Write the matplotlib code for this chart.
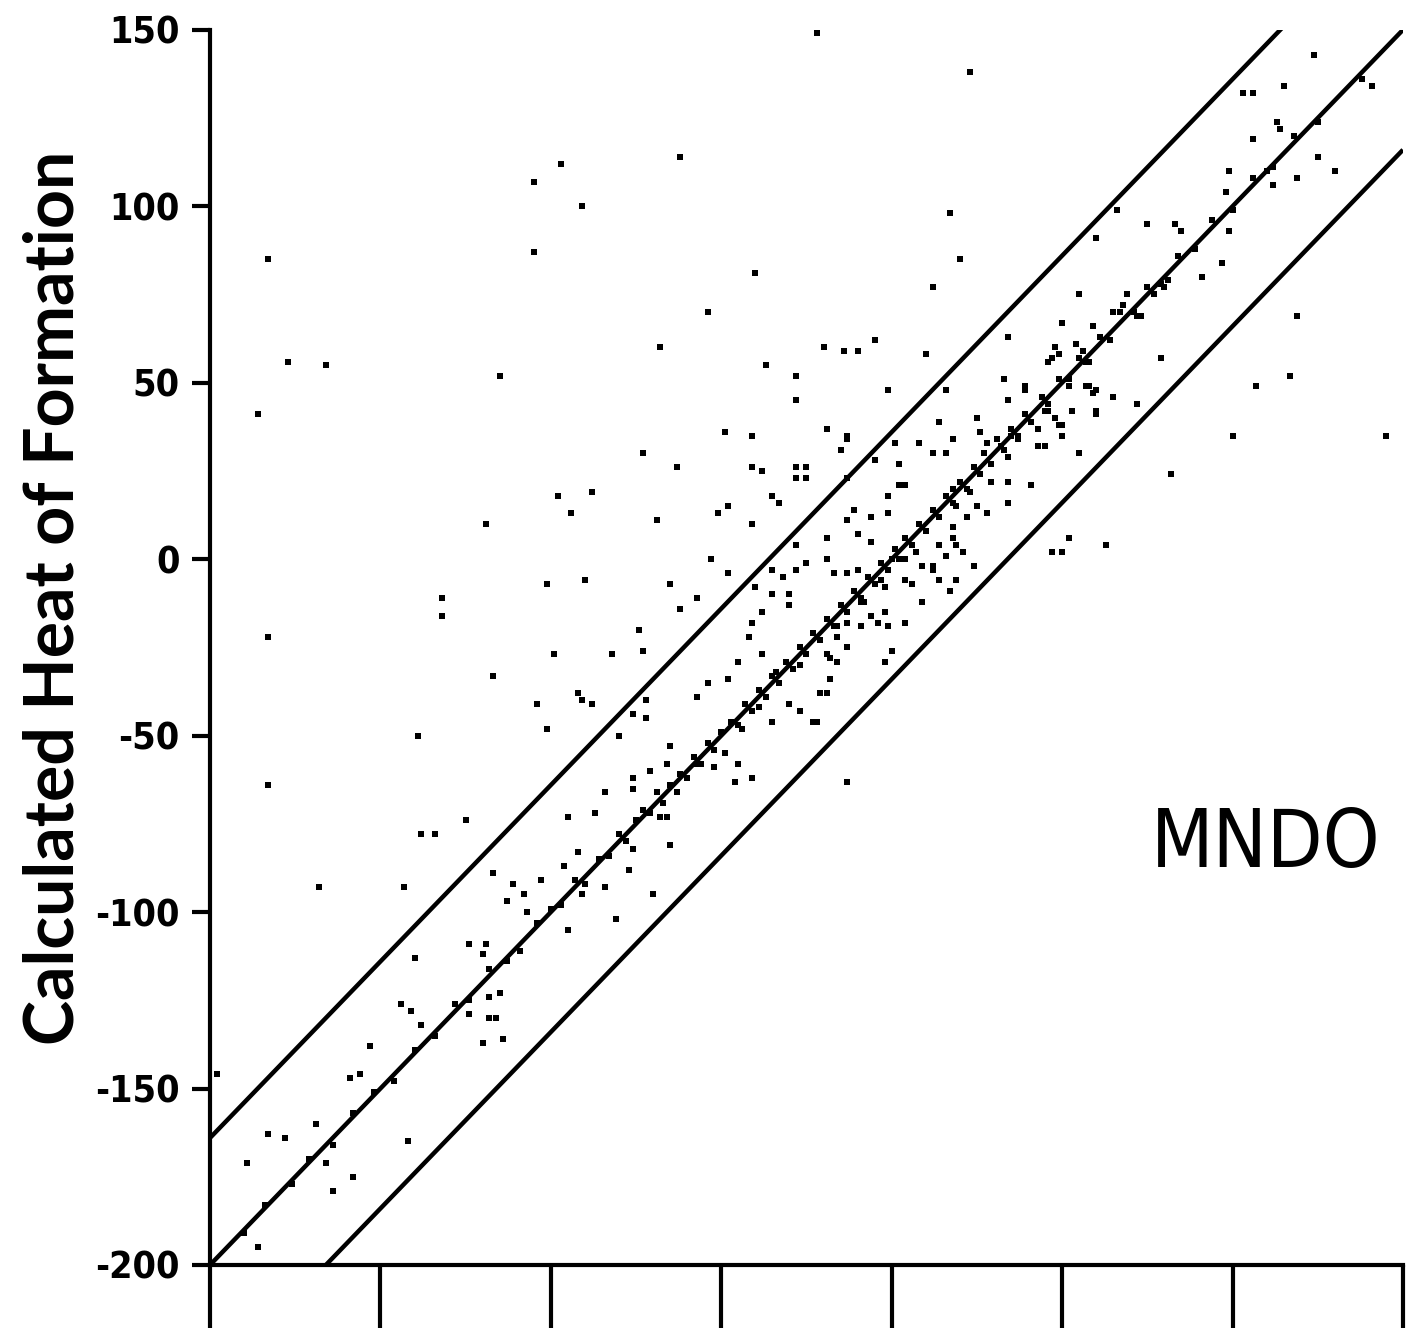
import matplotlib.pyplot as plt
import numpy as np

outlier_x = [-97, -105, -91, -105, -183, -177, -166, -115, -186,
             -22, 23, -62, 17, 20, 12, -40, -54, -68, -20, -14, -10, -5, 10, -37, -28, -1, 16, -28, 33, 34,
             -19, 14, -49, -41, -13, 25]
outlier_y = [112, 107, 100, 87, 85, 56, 55, 52, 41,
             149, 138, 114, 98, 85, 77, 81, 70, 60, 60, 59, 59, 62, 58, 55, 52, 48, 48, 45, 51, 63,
             37, 39, 36, 35, 35, 40]

upper_right_x = [124, 138, 141, 115, 103, 106, 113, 114, 106, 125, 130, 110, 112, 119, 99, 98, 66, 75, 83, 85,
                 99, 60, 97, 91, 81, 80, 77, 55, 69, 68, 72, 73, 65, 59, 119, 50, 48, 46, 57, 54,
                 56, 79, 52, 58, 60, 65, 107, 117, 72, 53, 60, 46, 49, 39, 100, 145]
upper_right_y = [143, 136, 134, 134, 132, 132, 124, 122, 119, 114, 110, 110, 106, 108, 110, 104, 99, 95, 95, 93,
                 93, 91, 84, 80, 79, 77, 75, 75, 75, 72, 69, 69, 70, 66, 69, 67, 60, 56, 56, 61,
                 59, 57, 49, 49, 48, 46, 49, 52, 44, 42, 41, 42, 38, 48, 35, 35]

left_x = [-98, -88, -94, -119, -101, -90, -132, -132, -183, -99, -117, -92, -91, -88, -104, -101, -139, -183,
          -84, -95, -87, -125, -138, -134,
          -168, -143, -117, -111, -103, -96, -92, -108, -113, -107, -91, -84, -95, -124, -119, -120, -140,
          -144, -141, -138, -118, -115, -124, -118, -116, -114, -120, -153, -159, -156, -198, -169, -183,
          -178, -142, -189, -166, -158, -164, -186]
left_y = [18, 19, 13, 10, -7, -6, -11, -16, -22, -27, -33, -38, -40, -41, -41, -48, -50, -64,
          -66, -73, -72, -74, -78, -78,
          -93, -93, -89, -92, -91, -87, -83, -95, -97, -100, -95, -93, -105, -109, -109, -112, -113,
          -126, -128, -132, -124, -123, -129, -130, -130, -136, -137, -138, -147, -146, -146, -160, -163,
          -164, -165, -171, -171, -175, -179, -195]

lower_mid_x = [-13, -81, -70, -77, -76, -65, -68, -66, -63, -76, -76, -71, -66, -52, -46, -41, -45, -49, -57]
lower_mid_y = [-63, -102, -95, -88, -82, -81, -73, -73, -66, -62, -65, -60, -58, -59, -63, -62, -58, -55, -58]

band_x = [-73, -63, -41, -38, -28, -25, -28, -25, -13, -15, -35, -33, -51, -48, -69, -41, -13, -53, -48,
          -65, -57, -62, -74, -82, -73,
          34, 39, 47, 49, 18, 1, 8, 12, 16, -5, 2, -1, 2, 4, -11, -13, -6, -1, -19, -10, -6, -28, -25,
          -19, -35, -28, -32, -40, -35, -30, -38, -30, -41, -42, -45, -54, -48, -57, -65, -72, -76, -72,
          -80, -38, -34, -39, -35, -30, -44,
          45, 48, 50, 43, 50, 53, 57, 59, 60, 55, 35, 37, 32, 34, 43, 45, 41, 34, 29, 34, 28, 23, 18,
          19, 25, 18, 22, 18, 19, 21, 14, 16, 7, 9, 12, 12, 4, 4, 6, 9, 19, 24, -3, -2, 0, -6, -4, -2,
          -1, 4, -9, -16, -13, -9, -8, -16, -13, 0, -2, -19, -18, -16, -27, -21, -19, -18, -23, -22,
          -27, 47, 50, 52, 82, 63,
          -17, -13, -10, 14, 17, 26, 28]
band_y = [30, 26, 26, 25, 26, 26, 23, 23, 34, 31, 18, 16, 13, 15, 11, 10, 23, 0, -4,
          -7, -11, -14, -20, -27, -26,
          45, 49, 57, 58, 34, 33, 33, 30, 30, 28, 27, 18, 21, 21, 14, 11, 12, 13, 6, 7, 5, 4, -1,
          0, -3, -3, -5, -8, -10, -10, -15, -13, -18, -22, -29, -35, -34, -39, -53, -40, -44, -45,
          -50, -27, -32, -42, -46, -41, -48,
          42, 40, 38, 37, 35, 42, 49, 47, 42, 30, 35, 34, 32, 29, 32, 32, 21, 22, 22, 16, 13, 19, 20,
          15, 15, 9, 12, 6, 4, 2, 4, 1, 2, -2, -3, -2, 0, -6, -7, -12, -6, -2, -6, -8, 0, -16, -18, -15,
          -19, -18, -19, -19, -18, -12, -12, -22, -25, -26, -29, -27, -28, -29, -30, -38, -38, -34, -46, -46,
          -43, 2, 2, 6, 24, 4,
          -4, -4, -3, -6, -9, 36, 33]

# the dense cluster sitting on the diagonal
diag_x = [-190, -184, -176, -171, -164, -158, -152, -146, -140, -134, -128, -124, -118, -113, -109, -104,
          -100, -97, -93, -90, -86, -83, -80, -78, -75, -73, -71, -69, -67, -65, -62, -60, -58, -56, -54,
          -52, -50, -47, -45, -43, -41, -39, -37, -35, -33, -31, -29, -27, -25, -23, -21, -19, -17, -15,
          -13, -11, -9, -7, -5, -3, -1, 1, 2, 4, 6, 8, 10, 12, 14, 16, 18, 20, 22, 24, 26, 27, 29, 31,
          33, 35, 37, 39, 41, 44, 46, 49, 52, 55, 58, 61, 64, 67, 71, 75, 79, 84, 89, 94, 100, 106, 112,
          118, 125]
diag_y = [-191, -183, -177, -170, -166, -157, -151, -148, -139, -135, -126, -125, -116, -114, -111, -103,
          -99, -98, -91, -92, -85, -84, -78, -80, -74, -71, -72, -66, -69, -64, -61, -62, -56, -58, -52,
          -54, -49, -46, -47, -41, -43, -37, -39, -33, -35, -29, -31, -25, -27, -21, -23, -17, -19, -13,
          -15, -9, -11, -5, -7, -1, -3, 3, 0, 6, 4, 10, 8, 14, 12, 18, 16, 22, 20, 26, 24, 30, 27, 34,
          31, 37, 35, 41, 39, 46, 44, 51, 51, 57, 56, 63, 62, 70, 70, 77, 78, 86, 88, 96, 99, 108, 111,
          120, 124]

exp_x = outlier_x + upper_right_x + left_x + lower_mid_x + band_x + diag_x
calc_y = outlier_y + upper_right_y + left_y + lower_mid_y + band_y + diag_y

band_offsets = [36, 0, -34]
y_ticks = [-200, -150, -100, -50, 0, 50, 100, 150]
x_ticks = [-200, -150, -100, -50, 0, 50, 100, 150]

fig = plt.figure(figsize=(14.16, 13.31), dpi=100)
ax = fig.add_axes([0.1483, 0.0496, 0.8425, 0.928])

line_x = np.array([-200, 150])
for off in band_offsets:
    ax.plot(line_x, line_x + off, color='black', lw=3.2, solid_capstyle='butt')

ax.plot(exp_x, calc_y, 's', color='black', ms=4.4, mew=0)

ax.set_xlim(-200, 150)
ax.set_ylim(-200, 150)
ax.spines['top'].set_visible(False)
ax.spines['right'].set_visible(False)
ax.spines['left'].set_linewidth(3)
ax.spines['bottom'].set_linewidth(3)

ax.set_xticks(x_ticks)
ax.set_xticklabels([])
ax.tick_params(axis='x', direction='out', length=45, width=3)
ax.set_yticks(y_ticks)
ax.set_yticklabels([str(v) for v in y_ticks],
                   fontdict={'family': 'DejaVu Sans', 'weight': 'bold', 'stretch': 'condensed', 'size': 27})
ax.tick_params(axis='y', direction='out', length=13, width=3, pad=9)

ax.set_ylabel('Calculated Heat of Formation', fontsize=49, family=['Lato', 'DejaVu Sans'], weight='bold')
ax.yaxis.set_label_coords(-0.104, 0.54)

ax.text(0.885, 0.34, 'MNDO', transform=ax.transAxes, ha='center', va='center',
        fontsize=58, family='DejaVu Sans', stretch='condensed')

fig.savefig('out.png', dpi=100)
